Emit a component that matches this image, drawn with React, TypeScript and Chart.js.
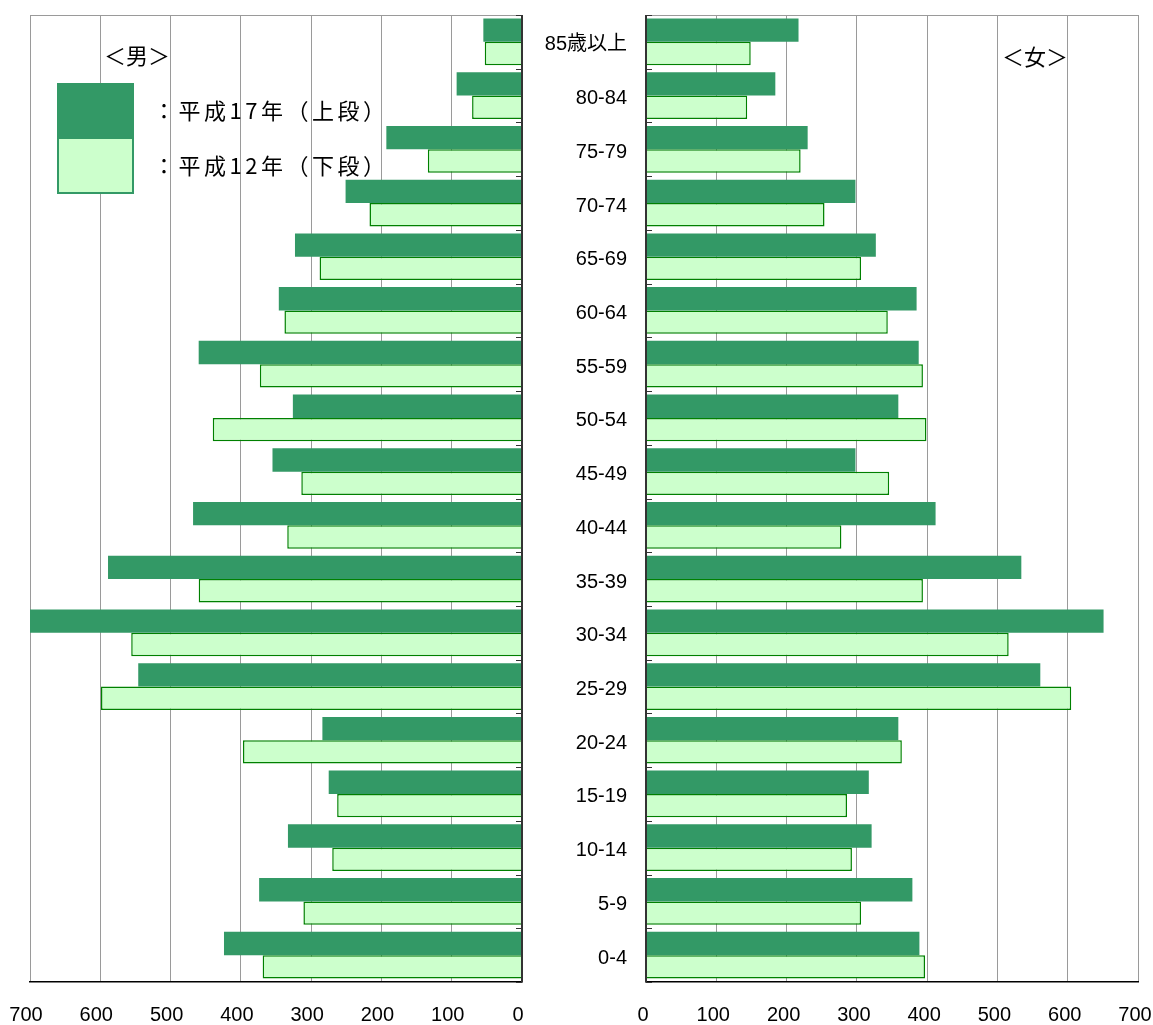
import React, { useEffect, useRef } from "react";
import { Chart, registerables } from "chart.js";

Chart.register(...registerables);

const ageGroups = [
  "85歳以上", "80-84", "75-79", "70-74", "65-69", "60-64", "55-59", "50-54", "45-49",
  "40-44", "35-39", "30-34", "25-29", "20-24", "15-19", "10-14", "5-9", "0-4",
];
const maleH17 = [55, 93, 193, 251, 323, 346, 460, 326, 355, 468, 589, 705, 546, 284, 275, 333, 374, 424];
const maleH12 = [53, 71, 134, 217, 288, 338, 373, 440, 314, 334, 460, 556, 599, 397, 263, 270, 311, 369];
const femaleH17 = [217, 184, 230, 298, 327, 385, 388, 359, 298, 412, 534, 651, 561, 359, 317, 321, 379, 389];
const femaleH12 = [149, 144, 220, 254, 306, 344, 394, 399, 346, 278, 394, 516, 605, 364, 286, 293, 306, 397];
const seriesLabels = ["平成17年（上段）", "平成12年（下段）"];
const axisMax = 700;
const axisStep = 100;

const DARK = "#339966";
const LIGHT = "#CCFFCC";
const LIGHT_BORDER = "#008000";
const FONT = "'Liberation Sans', Arial, 'Noto Sans CJK JP', sans-serif";
const CANVAS_W = 1170;
const CANVAS_H = 1025;

const framePlugin = {
  id: "pyramidFrame",
  afterDatasetsDraw(chart: any) {
    const { ctx, chartArea } = chart;
    const { left, right, top, bottom } = chartArea;
    const xs = chart.scales.x;
    const zeroX = Math.round(xs.getPixelForValue(0));
    const outerX = xs.getPixelForValue(axisMax);
    const dir = zeroX > outerX ? -1 : 1;
    ctx.save();
    ctx.strokeStyle = "#9a9a9a";
    ctx.lineWidth = 1;
    ctx.beginPath();
    ctx.moveTo(left, top + 0.5);
    ctx.lineTo(right, top + 0.5);
    ctx.stroke();
    ctx.strokeStyle = "#333333";
    ctx.lineWidth = 2;
    ctx.beginPath();
    ctx.moveTo(zeroX, top);
    ctx.lineTo(zeroX, bottom);
    ctx.stroke();
    const n = chart.data.labels.length;
    const band = (bottom - top) / n;
    ctx.lineWidth = 1;
    for (let i = 0; i <= n; i++) {
      const yy = Math.round(top + i * band) + 0.5;
      ctx.beginPath();
      ctx.moveTo(zeroX, yy);
      ctx.lineTo(zeroX + dir * 6, yy);
      ctx.stroke();
    }
    ctx.restore();
  },
};

function makeOptions(side: "male" | "female"): any {
  const isMale = side === "male";
  const yScale: any = {
    type: "category",
    display: !isMale,
    position: "left",
    offset: true,
    grid: { display: false, drawTicks: false },
    border: { display: false },
    ticks: {
      color: "#000",
      font: { size: 20, family: FONT },
      padding: 19,
      labelOffset: 3,
      autoSkip: false,
    },
  };
  if (!isMale) {
    yScale.afterFit = (scale: any) => {
      scale.width = 126;
      scale.paddingTop = 0;
      scale.paddingBottom = 0;
    };
  }
  return {
    indexAxis: "y",
    responsive: false,
    animation: false,
    events: [],
    layout: {
      padding: isMale
        ? { left: 30, right: CANVAS_W - 522, top: 15, bottom: 0 }
        : { left: 520, right: CANVAS_W - 1138, top: 15, bottom: 0 },
    },
    plugins: { legend: { display: false }, tooltip: { enabled: false } },
    scales: {
      x: {
        type: "linear",
        reverse: isMale,
        min: 0,
        max: axisMax,
        ticks: {
          stepSize: axisStep,
          color: "#000",
          font: { size: 20, family: FONT },
          padding: 21,
          labelOffset: isMale ? -4 : -3,
          maxRotation: 0,
        },
        grid: { color: "#9a9a9a", lineWidth: 1, drawTicks: false },
        border: { display: true, color: "#000", width: 1.5 },
        afterFit(scale: any) {
          scale.height = 43;
          scale.paddingLeft = 0;
          scale.paddingRight = 0;
        },
      },
      y: yScale,
    },
  };
}

function makeData(h17: number[], h12: number[]) {
  return {
    labels: ageGroups,
    datasets: [
      {
        label: seriesLabels[0],
        data: h17,
        backgroundColor: DARK,
        borderWidth: 0,
        categoryPercentage: 0.87,
        barPercentage: 1.0,
      },
      {
        label: seriesLabels[1],
        data: h12,
        backgroundColor: LIGHT,
        borderColor: LIGHT_BORDER,
        borderWidth: 1.5,
        categoryPercentage: 0.87,
        barPercentage: 1.0,
      },
    ],
  };
}

export default function App() {
  const leftRef = useRef<HTMLCanvasElement | null>(null);
  const rightRef = useRef<HTMLCanvasElement | null>(null);

  useEffect(() => {
    document.body.style.margin = "0";
    const charts: Chart[] = [];
    if (leftRef.current) {
      charts.push(
        new Chart(leftRef.current, {
          type: "bar",
          data: makeData(maleH17, maleH12) as any,
          options: makeOptions("male"),
          plugins: [framePlugin],
        })
      );
    }
    if (rightRef.current) {
      charts.push(
        new Chart(rightRef.current, {
          type: "bar",
          data: makeData(femaleH17, femaleH12) as any,
          options: makeOptions("female"),
          plugins: [framePlugin],
        })
      );
    }
    return () => charts.forEach((c) => c.destroy());
  }, []);

  const cjk = "'Noto Sans CJK JP', 'Liberation Sans', sans-serif";
  const canvasStyle: React.CSSProperties = { position: "absolute", left: 0, top: 0 };

  return (
    <div
      style={{
        position: "relative",
        width: 1153,
        height: 1025,
        overflow: "hidden",
        background: "#fff",
      }}
    >
      <canvas ref={leftRef} width={CANVAS_W} height={CANVAS_H} style={canvasStyle} />
      <canvas ref={rightRef} width={CANVAS_W} height={CANVAS_H} style={canvasStyle} />
      <div
        style={{
          position: "absolute",
          left: 104,
          top: 42,
          fontFamily: cjk,
          fontSize: 22,
          lineHeight: "24px",
          color: "#000",
          whiteSpace: "nowrap",
        }}
      >
        ＜男＞
      </div>
      <div
        style={{
          position: "absolute",
          left: 1002,
          top: 43,
          fontFamily: cjk,
          fontSize: 22,
          lineHeight: "24px",
          color: "#000",
          whiteSpace: "nowrap",
        }}
      >
        ＜女＞
      </div>
      <div
        style={{
          position: "absolute",
          left: 57,
          top: 83,
          width: 73,
          height: 107,
          border: `2px solid ${DARK}`,
          background: LIGHT,
        }}
      >
        <div style={{ width: "100%", height: 54, background: DARK }} />
      </div>
      {seriesLabels.map((t, i) => (
        <div
          key={t}
          style={{
            position: "absolute",
            left: 153,
            top: 95 + i * 55,
            fontFamily: cjk,
            fontSize: 22,
            lineHeight: "28px",
            letterSpacing: 3.5,
            color: "#000",
            whiteSpace: "nowrap",
          }}
        >
          {"：" + t}
        </div>
      ))}
    </div>
  );
}
